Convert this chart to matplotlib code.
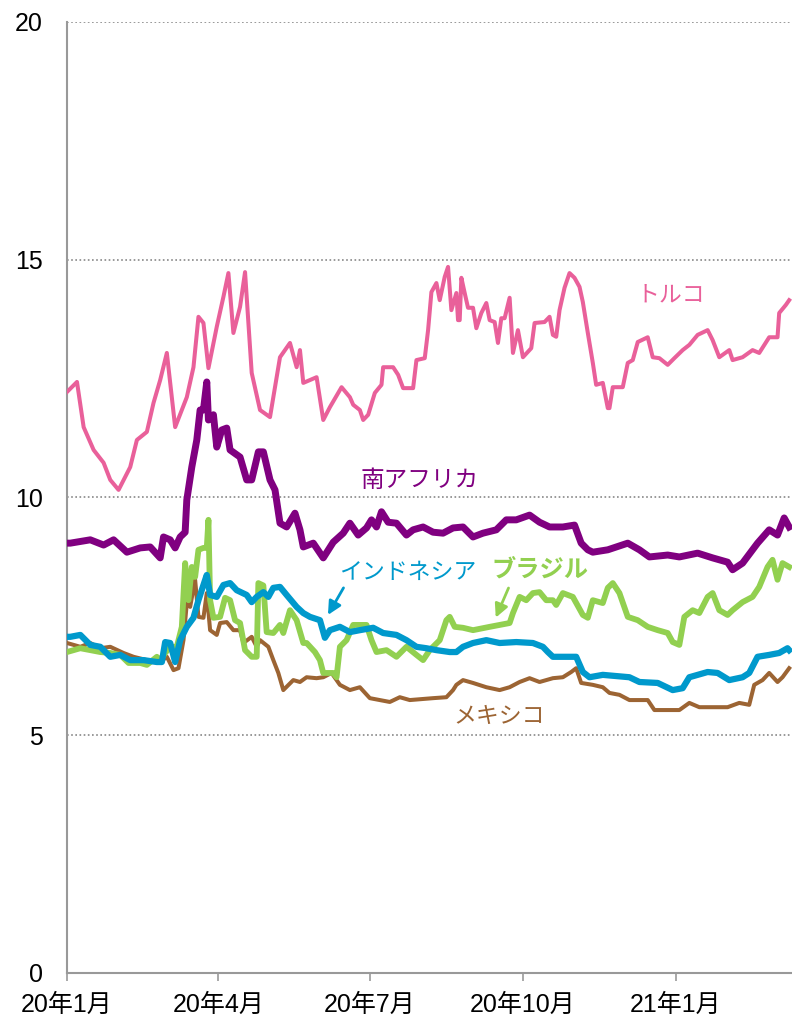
import matplotlib
matplotlib.use("Agg")
import matplotlib.pyplot as plt
import pandas as pd

plt.rcParams['font.family'] = ['Liberation Sans', 'Noto Sans CJK JP', 'DejaVu Sans']

# days since 2020-01-01 and values
turkey_day = [0, 6, 10, 16, 22, 26, 31, 38, 42, 48, 52, 56, 60, 65, 72, 76, 79, 82, 85, 90, 94, 97, 100, 104, 107,
              111, 116, 122, 128, 134, 138, 140, 142, 150, 154, 158, 165, 170, 172, 176, 178, 181, 185, 189, 190, 196,
              199, 202, 208, 210, 215, 217, 219, 222, 224, 227, 229, 231, 234, 235, 236, 237, 239, 241, 244, 246, 249,
              252, 254, 257, 259, 261, 263, 266, 268, 271, 274, 279, 281, 287, 290, 292, 294, 296, 299, 302, 305, 308,
              310, 313, 316, 318, 322, 325, 326, 328, 334, 337, 340, 343, 349, 352, 356, 361, 365, 370, 374, 379, 385,
              388, 392, 398, 400, 406, 412, 416, 422, 427, 428, 432, 434]
turkey_val = [12.22, 12.43, 11.48, 11.00, 10.73, 10.37, 10.16, 10.64, 11.21, 11.38, 11.99, 12.47, 13.04, 11.48, 12.11,
              12.74, 13.80, 13.67, 12.72, 13.59, 14.22, 14.72, 13.46, 14.01, 14.74, 12.62, 11.84, 11.69, 12.95, 13.25,
              12.74, 13.10, 12.41, 12.53, 11.63, 11.90, 12.32, 12.11, 11.95, 11.84, 11.63, 11.74, 12.20, 12.37, 12.74,
              12.74, 12.58, 12.30, 12.30, 12.89, 12.93, 13.52, 14.32, 14.51, 14.15, 14.64, 14.85, 13.94, 14.30, 13.73,
              13.73, 14.62, 14.30, 13.99, 13.99, 13.56, 13.88, 14.09, 13.73, 13.69, 13.25, 13.77, 13.77, 14.20, 13.04,
              13.52, 12.95, 13.14, 13.67, 13.69, 13.80, 13.42, 13.38, 13.94, 14.41, 14.72, 14.62, 14.43, 14.11, 13.46,
              12.83, 12.37, 12.41, 11.88, 11.88, 12.32, 12.32, 12.83, 12.89, 13.27, 13.37, 12.95, 12.93, 12.79, 12.93,
              13.10, 13.21, 13.42, 13.52, 13.31, 12.95, 13.10, 12.89, 12.95, 13.10, 13.04, 13.37, 13.37, 13.88, 14.05,
              14.15]

safrica_day = [0, 2, 14, 22, 28, 36, 44, 50, 56, 58, 62, 65, 68, 71, 72, 75, 78, 80, 82, 84, 85, 88, 90, 93, 96, 98,
               104, 108, 111, 115, 118, 122, 125, 128, 132, 137, 140, 142, 148, 154, 160, 166, 170, 175, 180, 183, 186,
               189, 193, 198, 204, 208, 214, 220, 226, 232, 238, 244, 250, 258, 264, 270, 278, 284, 290, 298, 305, 309,
               313, 316, 325, 337, 344, 350, 361, 368, 379, 388, 397, 400, 406, 415, 422, 427, 431, 434]
safrica_val = [9.04, 9.04, 9.11, 9.00, 9.11, 8.85, 8.94, 8.96, 8.73, 9.17, 9.11, 8.94, 9.17, 9.27, 9.95, 10.64, 11.21,
               11.84, 11.84, 12.43, 11.63, 11.74, 11.06, 11.42, 11.46, 11.00, 10.85, 10.37, 10.37, 10.96, 10.96, 10.37,
               10.16, 9.46, 9.38, 9.67, 9.32, 8.96, 9.04, 8.73, 9.06, 9.25, 9.46, 9.21, 9.36, 9.53, 9.38, 9.70, 9.48,
               9.46, 9.21, 9.32, 9.38, 9.27, 9.25, 9.36, 9.38, 9.17, 9.25, 9.32, 9.53, 9.53, 9.63, 9.48, 9.38, 9.38,
               9.42, 9.04, 8.90, 8.85, 8.90, 9.04, 8.90, 8.75, 8.79, 8.75, 8.83, 8.73, 8.64, 8.48, 8.62, 9.04, 9.32,
               9.21, 9.57, 9.38]

indonesia_day = [0, 2, 8, 14, 20, 26, 32, 38, 46, 54, 57, 59, 62, 65, 68, 72, 76, 79, 82, 84, 86, 90, 94, 98, 102, 108,
                 111, 114, 118, 121, 124, 128, 132, 138, 142, 146, 152, 155, 158, 164, 170, 176, 184, 190, 198, 204,
                 210, 216, 222, 230, 234, 238, 244, 252, 260, 270, 280, 286, 289, 292, 306, 310, 314, 322, 338, 344,
                 355, 364, 370, 374, 385, 391, 398, 406, 410, 415, 422, 428, 433, 434]
indonesia_val = [7.07, 7.07, 7.11, 6.90, 6.86, 6.65, 6.69, 6.58, 6.58, 6.54, 6.54, 6.96, 6.94, 6.54, 7.00, 7.28, 7.47,
                 7.84, 8.16, 8.37, 7.95, 7.91, 8.16, 8.20, 8.05, 7.95, 7.80, 7.91, 8.01, 7.91, 8.10, 8.12, 7.95, 7.70,
                 7.57, 7.49, 7.42, 7.05, 7.21, 7.28, 7.17, 7.21, 7.26, 7.15, 7.11, 7.00, 6.86, 6.83, 6.79, 6.75, 6.75,
                 6.86, 6.94, 7.00, 6.94, 6.96, 6.94, 6.86, 6.75, 6.65, 6.65, 6.33, 6.22, 6.27, 6.22, 6.12, 6.10, 5.95,
                 5.99, 6.22, 6.33, 6.31, 6.16, 6.22, 6.31, 6.65, 6.69, 6.73, 6.83, 6.79]

brazil_day = [0, 8, 14, 20, 26, 32, 37, 44, 48, 54, 56, 59, 62, 66, 69, 71, 73, 75, 77, 79, 82, 84, 85, 86, 88, 92, 95,
              98, 101, 104, 107, 111, 114, 115, 118, 120, 124, 128, 130, 134, 138, 142, 144, 149, 152, 154, 160, 162,
              164, 168, 172, 180, 183, 186, 192, 198, 204, 210, 214, 218, 224, 228, 230, 233, 238, 244, 254, 266, 268,
              272, 276, 280, 284, 288, 292, 294, 298, 304, 310, 313, 316, 322, 325, 328, 332, 337, 343, 349, 355, 361,
              364, 368, 371, 376, 380, 385, 388, 392, 397, 400, 406, 412, 416, 421, 424, 427, 430, 434]
brazil_val = [6.75, 6.83, 6.79, 6.75, 6.73, 6.69, 6.52, 6.52, 6.48, 6.65, 6.58, 6.73, 6.86, 6.86, 7.28, 8.62, 7.84,
              8.54, 8.33, 8.90, 8.94, 8.94, 9.53, 7.84, 7.47, 7.49, 7.89, 7.84, 7.42, 7.36, 6.79, 6.65, 6.65, 8.20,
              8.15, 7.17, 7.15, 7.32, 7.15, 7.63, 7.42, 6.94, 6.94, 6.75, 6.58, 6.31, 6.31, 6.22, 6.86, 7.00, 7.32,
              7.32, 7.00, 6.75, 6.79, 6.65, 6.86, 6.69, 6.58, 6.79, 7.00, 7.42, 7.49, 7.28, 7.26, 7.21, 7.28, 7.36,
              7.57, 7.91, 7.84, 7.99, 8.01, 7.84, 7.84, 7.74, 7.99, 7.91, 7.53, 7.47, 7.84, 7.78, 8.10, 8.20, 7.99,
              7.49, 7.42, 7.28, 7.21, 7.15, 6.96, 6.90, 7.49, 7.63, 7.57, 7.91, 7.99, 7.63, 7.53, 7.63, 7.80, 7.91,
              8.12, 8.54, 8.69, 8.27, 8.62, 8.54]

mexico_day = [0, 8, 14, 20, 26, 34, 40, 48, 56, 60, 64, 67, 70, 72, 74, 77, 79, 82, 84, 86, 90, 92, 96, 100, 104, 106,
              111, 114, 116, 121, 124, 127, 130, 136, 140, 144, 150, 154, 159, 164, 170, 176, 182, 188, 194, 200, 206,
              220, 228, 232, 234, 238, 244, 252, 260, 266, 272, 278, 284, 292, 298, 303, 306, 309, 316, 322, 326, 332,
              338, 349, 353, 368, 374, 380, 397, 404, 410, 413, 418, 422, 427, 430, 434]
mexico_val = [6.94, 6.86, 6.94, 6.83, 6.86, 6.73, 6.65, 6.58, 6.54, 6.65, 6.37, 6.41, 7.00, 7.78, 7.70, 8.27, 7.49,
              7.47, 7.99, 7.21, 7.11, 7.36, 7.38, 7.21, 7.21, 6.94, 7.07, 6.86, 7.00, 6.86, 6.58, 6.31, 5.95, 6.16,
              6.12, 6.22, 6.20, 6.22, 6.31, 6.06, 5.95, 6.01, 5.78, 5.74, 5.70, 5.80, 5.74, 5.78, 5.80, 5.95, 6.06,
              6.16, 6.10, 6.01, 5.95, 6.01, 6.12, 6.20, 6.12, 6.20, 6.22, 6.33, 6.41, 6.10, 6.06, 6.01, 5.89, 5.85,
              5.74, 5.74, 5.53, 5.53, 5.68, 5.59, 5.59, 5.68, 5.64, 6.06, 6.16, 6.31, 6.12, 6.22, 6.41]

tick_dates = ['2020-01-01', '2020-04-01', '2020-07-01', '2020-10-01', '2021-01-01']
tick_labels = ['20年1月', '20年4月', '20年7月', '20年10月', '21年1月']
y_ticks = [0, 5, 10, 15, 20]

start = pd.Timestamp('2020-01-01')


def to_dates(days):
    return start + pd.to_timedelta(days, unit='D')


fig = plt.figure(figsize=(7.92, 10.19), dpi=100)
ax = fig.add_axes([67 / 792, 1 - 973 / 1019, 1 - 67 / 792, (973 - 22) / 1019])

c_turkey = '#E9609A'
c_sa = '#800080'
c_indo = '#0099CC'
c_brazil = '#92D050'
c_mexico = '#9C6433'

ax.plot(to_dates(turkey_day), turkey_val, color=c_turkey, lw=2.9, zorder=3)
ax.plot(to_dates(safrica_day), safrica_val, color=c_sa, lw=5.0, zorder=3)
ax.plot(to_dates(mexico_day), mexico_val, color=c_mexico, lw=2.9, zorder=3)
ax.plot(to_dates(brazil_day), brazil_val, color=c_brazil, lw=4.2, zorder=3)
ax.plot(to_dates(indonesia_day), indonesia_val, color=c_indo, lw=4.5, zorder=4)

ax.set_xlim(start, start + pd.Timedelta(days=435.7))
ax.set_ylim(0, 20)
ax.set_yticks(y_ticks)
ax.set_yticklabels([str(v) for v in y_ticks], fontsize=18)
ax.set_xticks(pd.to_datetime(tick_dates))
ax.set_xticklabels(tick_labels, fontsize=18)
ax.tick_params(axis='y', length=0, pad=17.5)
ax.tick_params(axis='x', length=6, color='#999999', width=1.2, pad=8, direction='out')

for v in [5, 10, 15, 20]:
    ax.axhline(v, color='#888888', lw=1.2, ls=(0, (1, 1.5)), zorder=1)

for s in ['top', 'right']:
    ax.spines[s].set_visible(False)
for s in ['left', 'bottom']:
    ax.spines[s].set_color('#999999')
    ax.spines[s].set_linewidth(1.5)

fs = 16.5
ax.text(start + pd.Timedelta(days=363), 14.26, 'トルコ', color=c_turkey, fontsize=fs, ha='center', va='center',
        family=['Noto Sans CJK JP'])
ax.text(start + pd.Timedelta(days=212), 10.35, '南アフリカ', color=c_sa, fontsize=fs + 0.5, ha='center',
        va='center', family=['Noto Sans CJK JP'])
ax.text(start + pd.Timedelta(days=205), 8.42, 'インドネシア', color=c_indo, fontsize=fs, ha='center', va='center',
        family=['Noto Sans CJK JP'])
ax.text(start + pd.Timedelta(days=284), 8.48, 'ブラジル', color=c_brazil, fontsize=fs + 1, ha='center', va='center',
        family=['Noto Sans CJK JP'], fontweight='bold')
ax.text(start + pd.Timedelta(days=260), 5.4, 'メキシコ', color=c_mexico, fontsize=fs, ha='center', va='center',
        family=['Noto Sans CJK JP'])

ax.annotate('', xy=(start + pd.Timedelta(days=156), 7.48), xytext=(start + pd.Timedelta(days=167), 8.15),
            arrowprops=dict(arrowstyle='-|>', color=c_indo, lw=2.0, mutation_scale=20), zorder=5)
ax.annotate('', xy=(start + pd.Timedelta(days=257), 7.42), xytext=(start + pd.Timedelta(days=266), 8.15),
            arrowprops=dict(arrowstyle='-|>', color=c_brazil, lw=2.0, mutation_scale=20), zorder=5)

fig.savefig('out.png', dpi=100)
